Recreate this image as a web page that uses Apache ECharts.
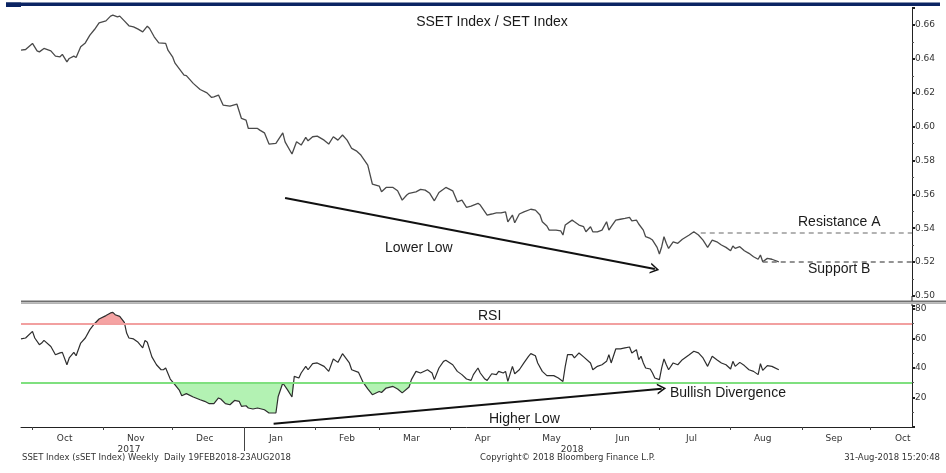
<!DOCTYPE html>
<html>
<head>
<meta charset="utf-8">
<script src="https://cdn.jsdelivr.net/npm/echarts@6/dist/echarts.min.js"></script>
<style>
html, body { margin: 0; padding: 0; background: #fff; }
#main { width: 946px; height: 473px; }
</style>
</head>
<body>
<div id="main"></div>
<script>
// SSET / SET ratio
var priceDates = [
  '2017-09-26','2017-09-28','2017-10-01','2017-10-03','2017-10-04','2017-10-06','2017-10-09','2017-10-11','2017-10-13','2017-10-14',
  '2017-10-16','2017-10-17','2017-10-19','2017-10-20','2017-10-22','2017-10-24','2017-10-26','2017-10-28','2017-10-30','2017-11-02',
  '2017-11-04','2017-11-05','2017-11-07','2017-11-08','2017-11-10','2017-11-12','2017-11-14','2017-11-16','2017-11-18','2017-11-20',
  '2017-11-21','2017-11-23','2017-11-25','2017-11-28','2017-11-29','2017-12-01','2017-12-02','2017-12-06','2017-12-07','2017-12-10',
  '2017-12-13','2017-12-16','2017-12-18','2017-12-19','2017-12-21','2017-12-23','2017-12-26','2017-12-29','2017-12-31','2018-01-02',
  '2018-01-03','2018-01-07','2018-01-08','2018-01-10','2018-01-12','2018-01-15','2018-01-18','2018-01-19','2018-01-22','2018-01-24',
  '2018-01-26','2018-01-28','2018-01-29','2018-01-31','2018-02-02','2018-02-05','2018-02-07','2018-02-09','2018-02-11','2018-02-13',
  '2018-02-15','2018-02-17','2018-02-19','2018-02-21','2018-02-24','2018-02-26','2018-03-01','2018-03-02','2018-03-04','2018-03-07',
  '2018-03-09','2018-03-11','2018-03-13','2018-03-14','2018-03-17','2018-03-19','2018-03-21','2018-03-23','2018-03-25','2018-03-27',
  '2018-03-30','2018-04-02','2018-04-04','2018-04-06','2018-04-08','2018-04-10','2018-04-13','2018-04-14','2018-04-17','2018-04-19',
  '2018-04-21','2018-04-23','2018-04-25','2018-04-26','2018-04-28','2018-04-29','2018-05-01','2018-05-03','2018-05-06','2018-05-08',
  '2018-05-10','2018-05-11','2018-05-13','2018-05-14','2018-05-17','2018-05-19','2018-05-20','2018-05-21','2018-05-24','2018-05-25',
  '2018-05-27','2018-05-29','2018-05-30','2018-06-01','2018-06-02','2018-06-04','2018-06-06','2018-06-08','2018-06-09','2018-06-10',
  '2018-06-12','2018-06-14','2018-06-16','2018-06-18','2018-06-19','2018-06-21','2018-06-22','2018-06-24','2018-06-25','2018-06-27',
  '2018-06-28','2018-06-30','2018-07-01','2018-07-02','2018-07-03','2018-07-04','2018-07-05','2018-07-07','2018-07-09','2018-07-11',
  '2018-07-14','2018-07-16','2018-07-18','2018-07-20','2018-07-22','2018-07-24','2018-07-26','2018-07-28','2018-07-30','2018-08-01',
  '2018-08-02','2018-08-03','2018-08-05','2018-08-07','2018-08-09','2018-08-11','2018-08-13','2018-08-14','2018-08-15','2018-08-17',
  '2018-08-19','2018-08-22'
];
var priceValues = [
  0.6451,0.6455,0.6491,0.6447,0.6441,0.6461,0.6447,0.6416,0.6412,0.6426,
  0.6382,0.6402,0.6416,0.6408,0.6471,0.6494,0.6540,0.6573,0.6612,0.6624,
  0.6652,0.6658,0.6648,0.6652,0.6624,0.6595,0.6589,0.6575,0.6559,0.6593,
  0.6579,0.6530,0.6494,0.6491,0.6451,0.6412,0.6376,0.6304,0.6301,0.6255,
  0.6219,0.6199,0.6172,0.6176,0.6186,0.6127,0.6121,0.6133,0.6048,0.6038,
  0.5989,0.5989,0.5979,0.5963,0.5897,0.5901,0.5963,0.5910,0.5838,0.5910,
  0.5891,0.5936,0.5916,0.5940,0.5944,0.5920,0.5897,0.5940,0.5920,0.5950,
  0.5920,0.5871,0.5857,0.5832,0.5773,0.5661,0.5649,0.5615,0.5641,0.5641,
  0.5621,0.5566,0.5596,0.5606,0.5615,0.5629,0.5625,0.5606,0.5562,0.5611,
  0.5641,0.5621,0.5556,0.5566,0.5523,0.5531,0.5547,0.5537,0.5478,0.5484,
  0.5491,0.5491,0.5497,0.5438,0.5478,0.5432,0.5484,0.5497,0.5512,0.5507,
  0.5478,0.5438,0.5413,0.5389,0.5389,0.5385,0.5360,0.5419,0.5448,0.5438,
  0.5419,0.5409,0.5379,0.5409,0.5379,0.5379,0.5389,0.5438,0.5389,0.5409,
  0.5448,0.5453,0.5458,0.5464,0.5444,0.5448,0.5425,0.5389,0.5350,0.5340,
  0.5330,0.5287,0.5248,0.5291,0.5350,0.5311,0.5281,0.5320,0.5311,0.5335,
  0.5360,0.5379,0.5360,0.5330,0.5287,0.5330,0.5320,0.5301,0.5287,0.5267,
  0.5295,0.5281,0.5291,0.5267,0.5252,0.5232,0.5217,0.5242,0.5202,0.5222,
  0.5217,0.5202
];

// RSI
var rsiDates = [
  '2017-09-26','2017-09-28','2017-10-01','2017-10-02','2017-10-04','2017-10-05','2017-10-06','2017-10-09','2017-10-11','2017-10-13',
  '2017-10-14','2017-10-16','2017-10-17','2017-10-19','2017-10-20','2017-10-22','2017-10-24','2017-10-26','2017-10-28','2017-10-30',
  '2017-11-02','2017-11-04','2017-11-05','2017-11-06','2017-11-08','2017-11-10','2017-11-11','2017-11-12','2017-11-14','2017-11-16',
  '2017-11-18','2017-11-19','2017-11-20','2017-11-22','2017-11-24','2017-11-26','2017-11-27','2017-11-28','2017-11-30','2017-12-02',
  '2017-12-04','2017-12-05','2017-12-07','2017-12-10','2017-12-13','2017-12-15','2017-12-17','2017-12-19','2017-12-21','2017-12-22',
  '2017-12-24','2017-12-26','2017-12-28','2017-12-30','2017-12-31','2018-01-02','2018-01-03','2018-01-05','2018-01-07','2018-01-10',
  '2018-01-12','2018-01-15','2018-01-16','2018-01-18','2018-01-20','2018-01-22','2018-01-23','2018-01-25','2018-01-26','2018-01-28',
  '2018-01-29','2018-01-31','2018-02-02','2018-02-05','2018-02-07','2018-02-09','2018-02-11','2018-02-13','2018-02-16','2018-02-17',
  '2018-02-20','2018-02-22','2018-02-24','2018-02-26','2018-03-01','2018-03-02','2018-03-04','2018-03-07','2018-03-09','2018-03-11',
  '2018-03-14','2018-03-15','2018-03-17','2018-03-19','2018-03-22','2018-03-24','2018-03-25','2018-03-27','2018-03-29','2018-03-30',
  '2018-04-02','2018-04-04','2018-04-06','2018-04-08','2018-04-10','2018-04-11','2018-04-13','2018-04-14','2018-04-16','2018-04-17',
  '2018-04-19','2018-04-21','2018-04-22','2018-04-24','2018-04-25','2018-04-26','2018-04-28','2018-04-29','2018-05-01','2018-05-03',
  '2018-05-05','2018-05-06','2018-05-08','2018-05-09','2018-05-11','2018-05-13','2018-05-16','2018-05-18','2018-05-20','2018-05-21',
  '2018-05-22','2018-05-24','2018-05-25','2018-05-27','2018-05-29','2018-06-01','2018-06-02','2018-06-04','2018-06-06','2018-06-08',
  '2018-06-09','2018-06-10','2018-06-12','2018-06-14','2018-06-16','2018-06-18','2018-06-19','2018-06-21','2018-06-22','2018-06-23',
  '2018-06-24','2018-06-25','2018-06-27','2018-06-28','2018-06-29','2018-07-01','2018-07-02','2018-07-03','2018-07-04','2018-07-05',
  '2018-07-07','2018-07-09','2018-07-11','2018-07-14','2018-07-16','2018-07-18','2018-07-20','2018-07-22','2018-07-24','2018-07-26',
  '2018-07-28','2018-07-30','2018-08-01','2018-08-02','2018-08-03','2018-08-05','2018-08-07','2018-08-09','2018-08-11','2018-08-13',
  '2018-08-14','2018-08-15','2018-08-17','2018-08-19','2018-08-22'
];
var rsiValues = [
  59.7,60.3,64.8,60.3,55.8,56.9,58.7,54.6,49.0,50.2,
  50.6,42.2,46.8,50.6,48.3,56.9,60.3,66.0,70.0,73.2,
  75.5,77.3,77.7,76.1,75.0,70.9,63.7,60.3,59.7,57.4,
  53.6,58.7,57.4,47.5,42.2,38.8,38.8,40.0,32.5,28.7,
  24.8,21.2,22.6,20.3,18.5,17.4,15.8,15.8,19.7,19.0,
  15.8,15.1,18.0,17.4,14.0,14.4,12.9,12.2,12.9,11.7,
  9.5,9.5,20.7,29.8,25.3,20.3,34.3,33.2,36.6,41.1,
  38.8,42.9,43.4,41.1,37.7,46.1,43.8,49.7,43.4,38.8,
  37.0,30.2,25.8,21.9,24.1,23.4,26.4,27.5,25.8,23.1,
  27.1,32.1,37.7,36.6,38.8,36.6,32.1,40.0,44.5,45.2,
  42.2,37.7,35.5,32.5,31.6,35.5,40.0,36.6,32.5,31.6,
  36.1,35.5,37.7,36.6,37.7,30.9,41.1,36.1,38.8,43.4,
  47.9,49.7,48.3,43.4,37.7,34.8,34.8,33.2,30.9,41.1,
  49.0,49.0,46.8,50.2,47.5,43.4,38.8,41.1,42.2,44.5,
  49.0,43.4,52.9,52.9,53.6,54.2,50.2,52.4,45.6,47.9,
  43.4,40.0,39.3,36.6,33.2,32.1,40.0,46.1,42.2,38.8,
  43.4,42.2,45.6,49.0,51.3,50.2,46.8,41.1,47.9,45.6,
  43.4,42.2,39.3,44.5,41.1,43.8,41.6,38.8,37.7,35.5,
  42.9,38.4,41.6,41.1,38.8
];

var overbought = 70;
var oversold = 30;
var resistanceA = 0.5376;
var supportB = 0.5202;
var monthNames = ['Jan','Feb','Mar','Apr','May','Jun','Jul','Aug','Sep','Oct','Nov','Dec'];
var yearLabelDates = ['2017-11-12', '2018-05-24'];
var yearBreak = '2018-01-01';

// one category per calendar day
var categories = [];
for (var t = Date.UTC(2017, 8, 26); t <= Date.UTC(2018, 9, 19); t += 86400000) {
  categories.push(new Date(t).toISOString().slice(0, 10));
}
var lastDay = categories[categories.length - 1];

function pairs(dates, vals) {
  return dates.map(function (d, i) { return [d, vals[i]]; });
}

var arrowHead = 'path://M0,10 L5,0 L10,10 L8.4,10 L5,3.2 L1.6,10 Z';
var axisFont = 'DejaVu Sans';
var textFont = 'Liberation Sans';

function label(x, y, txt, size, align) {
  return {
    type: 'text', x: x, y: y, silent: true,
    style: {
      text: txt, fill: '#1a1a1a', font: size + 'px "' + textFont + '"',
      textAlign: align || 'left', textVerticalAlign: 'middle',
      align: align || 'left', verticalAlign: 'middle'
    }
  };
}
function foot(x, y, txt, align) {
  return {
    type: 'text', x: x, y: y, silent: true,
    style: {
      text: txt, fill: '#333', font: '8.5px "' + axisFont + '"',
      textAlign: align || 'left', textVerticalAlign: 'middle',
      align: align || 'left', verticalAlign: 'middle'
    }
  };
}

var chart = echarts.init(document.getElementById('main'));
chart.setOption({
  animation: false,
  backgroundColor: '#fff',
  grid: [
    { left: 21, right: 34, top: 8, height: 288, outerBoundsMode: 'none' },
    { left: 21, right: 34, top: 306, height: 121, outerBoundsMode: 'none' }
  ],
  xAxis: [
    { type: 'category', gridIndex: 0, data: categories, boundaryGap: false, show: false },
    {
      type: 'category', gridIndex: 1, data: categories, boundaryGap: false, offset: 3,
      axisLine: { lineStyle: { color: '#222', width: 1 } },
      axisTick: {
        interval: function (i, v) { return v.slice(8) === '01'; },
        length: 3, lineStyle: { color: '#444' }
      },
      axisLabel: {
        interval: function (i, v) { return v.slice(8) === '15'; },
        formatter: function (v) { return monthNames[parseInt(v.slice(5, 7), 10) - 1]; },
        fontFamily: axisFont, fontSize: 9, color: '#333', margin: 4
      },
      splitLine: { show: false }
    },
    {
      type: 'category', gridIndex: 1, data: categories, boundaryGap: false, position: 'bottom', offset: 3,
      axisLine: { show: false },
      axisTick: {
        show: true,
        interval: function (i, v) { return v === yearBreak; },
        length: 21, lineStyle: { color: '#444' }
      },
      axisLabel: {
        interval: function (i, v) { return yearLabelDates.indexOf(v) >= 0; },
        formatter: function (v) { return v.slice(0, 4); },
        fontFamily: axisFont, fontSize: 9, color: '#333', margin: 15
      },
      splitLine: { show: false }
    }
  ],
  yAxis: [
    {
      type: 'value', gridIndex: 0, position: 'right', min: 0.50, max: 0.67, interval: 0.02,
      axisLine: { show: true, lineStyle: { color: '#222' } },
      axisTick: { show: true, length: 3, lineStyle: { color: '#222', width: 2 } },
      minorTick: { show: true, splitNumber: 2, length: 2, lineStyle: { color: '#555' } },
      axisLabel: {
        margin: 3, fontFamily: axisFont, fontSize: 9, color: '#333',
        formatter: function (v) {
          var k = v * 50;
          return Math.abs(k - Math.round(k)) < 1e-6 ? v.toFixed(2) : '';
        }
      },
      splitLine: { show: false }
    },
    {
      type: 'value', gridIndex: 1, position: 'right', min: 0, max: 82, interval: 20,
      axisLine: { show: true, lineStyle: { color: '#222' } },
      axisTick: { show: true, length: 3, lineStyle: { color: '#222', width: 2 } },
      minorTick: { show: true, splitNumber: 2, length: 2, lineStyle: { color: '#555' } },
      axisLabel: {
        margin: 3, fontFamily: axisFont, fontSize: 9, color: '#333',
        formatter: function (v) { return (v > 0 && v % 20 === 0) ? String(v) : ''; }
      },
      splitLine: { show: false }
    }
  ],
  series: [
    {
      name: 'SSET / SET', type: 'line', xAxisIndex: 0, yAxisIndex: 0,
      data: pairs(priceDates, priceValues),
      symbol: 'none', z: 3,
      lineStyle: { color: '#4a4a4a', width: 1.3 },
      markLine: {
        silent: true, animation: false, label: { show: false },
        symbol: 'none',
        data: [
          [{ coord: ['2018-07-19', resistanceA], lineStyle: { color: '#9a9a9a', type: [5, 4], width: 1.5 } },
           { coord: [lastDay, resistanceA] }],
          [{ coord: ['2018-08-15', supportB], lineStyle: { color: '#707070', type: [5, 4], width: 1.5 } },
           { coord: [lastDay, supportB] }],
          [{ coord: ['2018-01-19', 0.5578], symbol: 'none', lineStyle: { color: '#111', width: 2, type: 'solid' } },
           { coord: ['2018-06-29', 0.5159], symbol: arrowHead, symbolSize: [11, 9] }]
        ]
      }
    },
    {
      name: 'overbought fill', type: 'line', xAxisIndex: 1, yAxisIndex: 1,
      data: pairs(rsiDates, rsiValues.map(function (v) { return Math.max(v, overbought); })),
      symbol: 'none', z: 1, silent: true,
      lineStyle: { width: 0 },
      areaStyle: { origin: overbought, color: '#f5a3a3', opacity: 1 }
    },
    {
      name: 'oversold fill', type: 'line', xAxisIndex: 1, yAxisIndex: 1,
      data: pairs(rsiDates, rsiValues.map(function (v) { return Math.min(v, oversold); })),
      symbol: 'none', z: 1, silent: true,
      lineStyle: { width: 0 },
      areaStyle: { origin: oversold, color: '#b3f2b3', opacity: 1 }
    },
    {
      name: 'RSI', type: 'line', xAxisIndex: 1, yAxisIndex: 1,
      data: pairs(rsiDates, rsiValues),
      symbol: 'none', z: 3,
      lineStyle: { color: '#2e2e2e', width: 1.2 },
      markLine: {
        silent: true, animation: false, label: { show: false },
        symbol: 'none',
        data: [
          { yAxis: overbought, lineStyle: { color: '#f2a0a0', width: 2, type: 'solid' } },
          { yAxis: oversold, lineStyle: { color: '#7fe07f', width: 2, type: 'solid' } },
          [{ coord: ['2018-01-14', 2.2], symbol: 'none', lineStyle: { color: '#111', width: 2, type: 'solid' } },
           { coord: ['2018-07-02', 26.0], symbol: arrowHead, symbolSize: [11, 9] }]
        ]
      }
    }
  ],
  graphic: [
    { type: 'rect', shape: { x: 6, y: 2.5, width: 934, height: 3.5 }, style: { fill: '#0b2463' }, silent: true },
    { type: 'rect', shape: { x: 6, y: 2.5, width: 15, height: 4.5 }, style: { fill: '#0b2463' }, silent: true },
    { type: 'rect', shape: { x: 21, y: 300.5, width: 925, height: 1.8 }, style: { fill: '#6f6f6f' }, silent: true },
    { type: 'rect', shape: { x: 21, y: 302.3, width: 925, height: 1.6 }, style: { fill: '#b4b4b4' }, silent: true },
    { type: 'line', shape: { x1: 912, y1: 296, x2: 912, y2: 301 }, style: { stroke: '#222', lineWidth: 1 }, silent: true },
    { type: 'line', shape: { x1: 912, y1: 304, x2: 912, y2: 306 }, style: { stroke: '#222', lineWidth: 1 }, silent: true },
    label(492, 22, 'SSET Index / SET Index', 14, 'center'),
    label(798, 222, 'Resistance A', 14),
    label(808, 269, 'Support B', 14),
    label(385, 248, 'Lower Low', 14),
    label(478, 316, 'RSI', 14),
    label(670, 393, 'Bullish Divergence', 14),
    label(489, 419, 'Higher Low', 14),
    foot(22, 458, 'SSET Index (sSET Index) Weekly  Daily 19FEB2018-23AUG2018'),
    foot(480, 458, 'Copyright\u00a9 2018 Bloomberg Finance L.P.'),
    foot(940, 458, '31-Aug-2018 15:20:48', 'right')
  ]
});
</script>
</body>
</html>
